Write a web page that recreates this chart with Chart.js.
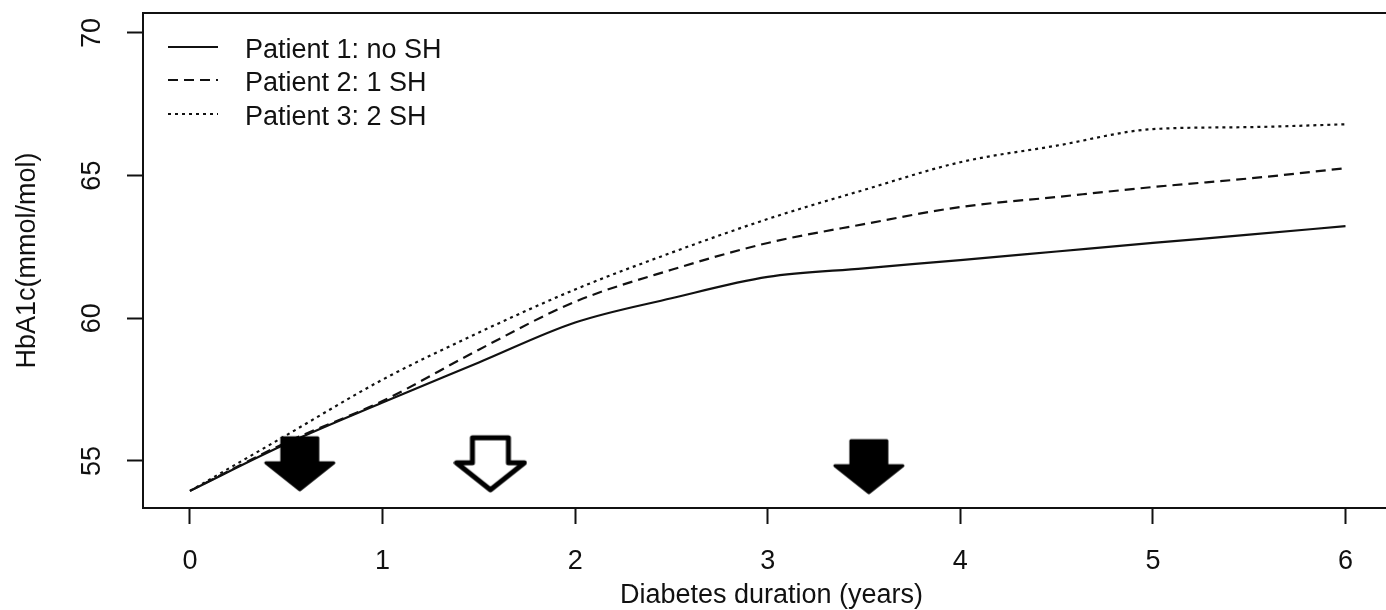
<!DOCTYPE html>
<html>
<head>
<meta charset="utf-8">
<script src="https://cdn.jsdelivr.net/npm/chart.js@4/dist/chart.umd.min.js"></script>
<style>
  html, body { margin: 0; padding: 0; background: #fff; overflow: hidden; }
  canvas { display: block; }
</style>
</head>
<body>
<canvas id="chart" width="1400" height="610"></canvas>
<script>
'use strict';

// values (years since diagnosis, HbA1c mmol/mol)
const years    = [0, 0.5, 1, 1.5, 2, 2.5, 3, 3.5, 4, 4.5, 5, 5.5, 6];
const patient1 = [53.95, 55.6, 57.05, 58.45, 59.85, 60.7, 61.45, 61.75, 62.04, 62.34, 62.64, 62.93, 63.23];
const patient2 = [53.95, 55.65, 57.1, 58.9, 60.58, 61.7, 62.64, 63.3, 63.9, 64.25, 64.6, 64.9, 65.26];
const patient3 = [53.95, 55.9, 57.85, 59.5, 61.01, 62.3, 63.48, 64.5, 65.47, 66.05, 66.63, 66.7, 66.8];
const seriesLabels = ['Patient 1: no SH', 'Patient 2: 1 SH', 'Patient 3: 2 SH'];

const xTicks = [0, 1, 2, 3, 4, 5, 6];
const yTicks = [55, 60, 65, 70];

// SH event markers
const arrowX      = [0.57, 1.56, 3.525];
const arrowY      = [54.9, 54.9, 54.8];
const arrowFilled = [true, false, true];

const FONT = '"Liberation Sans", Arial, sans-serif';
const INK = '#111';

function makeArrow(filled) {
  const c = document.createElement('canvas');
  c.width = 74;
  c.height = 60;
  const g = c.getContext('2d');
  g.beginPath();
  g.moveTo(19, 4);
  g.lineTo(55, 4);
  g.lineTo(55, 29);
  g.lineTo(71, 29);
  g.lineTo(37, 56);
  g.lineTo(3, 29);
  g.lineTo(19, 29);
  g.closePath();
  g.lineJoin = 'round';
  g.strokeStyle = '#000';
  if (filled) {
    g.fillStyle = '#000';
    g.lineWidth = 3;
  } else {
    g.fillStyle = '#fff';
    g.lineWidth = 5;
  }
  g.fill();
  g.stroke();
  return c;
}

const filledArrow = makeArrow(true);
const hollowArrow = makeArrow(false);

const series = [patient1, patient2, patient3];
const dashes = [[], [10, 6], [3, 4]];

const frame = {
  id: 'frame',
  afterDraw(chart) {
    const {ctx, chartArea: a, scales} = chart;
    ctx.save();
    ctx.strokeStyle = INK;
    ctx.lineWidth = 2;
    ctx.setLineDash([]);
    ctx.strokeRect(a.left, a.top, a.right - a.left, a.bottom - a.top);

    // y tick labels, rotated like R's default axis labels
    ctx.fillStyle = INK;
    ctx.font = '27px ' + FONT;
    ctx.textAlign = 'center';
    ctx.textBaseline = 'middle';
    for (const v of yTicks) {
      const y = scales.y.getPixelForValue(v);
      ctx.save();
      ctx.translate(93, y);
      ctx.rotate(-Math.PI / 2);
      ctx.fillText(String(v), 0, 0);
      ctx.restore();
    }

    // legend in the top-left corner
    const rows = [47, 80, 114];
    ctx.textAlign = 'left';
    seriesLabels.forEach((label, i) => {
      const ds = chart.data.datasets[i];
      ctx.strokeStyle = ds.borderColor;
      ctx.lineWidth = ds.borderWidth;
      ctx.setLineDash(ds.borderDash);
      ctx.beginPath();
      ctx.moveTo(168, rows[i]);
      ctx.lineTo(218, rows[i]);
      ctx.stroke();
      ctx.fillText(label, 245, rows[i] + 4);
    });
    ctx.restore();
  }
};

const datasets = series.map((vals, i) => ({
  label: seriesLabels[i],
  data: years.map((x, j) => ({x: x, y: vals[j]})),
  borderColor: '#111',
  borderWidth: 2.2,
  borderDash: dashes[i],
  pointRadius: 0,
  fill: false,
  cubicInterpolationMode: 'monotone',
  order: 2
}));

datasets.push({
  label: 'SH',
  data: arrowX.map((x, i) => ({x: x, y: arrowY[i]})),
  showLine: false,
  pointStyle: arrowFilled.map(f => f ? filledArrow : hollowArrow),
  pointRadius: 30,
  clip: false,
  order: 1
});

new Chart(document.getElementById('chart'), {
  type: 'line',
  data: {datasets: datasets},
  options: {
    responsive: false,
    animation: false,
    events: [],
    layout: {autoPadding: false, padding: {top: 13, right: 0, left: 0, bottom: 0}},
    plugins: {legend: {display: false}, tooltip: {enabled: false}},
    scales: {
      x: {
        type: 'linear',
        min: -0.244,
        max: 6.283,
        afterBuildTicks: s => { s.ticks = xTicks.map(v => ({value: v})); },
        afterFit: s => { s.height = 102; },
        border: {display: false},
        grid: {drawOnChartArea: false, drawTicks: true, tickLength: 16, tickWidth: 2, tickColor: INK},
        ticks: {
          padding: 24, color: INK, maxRotation: 0, autoSkip: false,
          font: {size: 27, family: FONT, lineHeight: 1},
          callback: v => String(v)
        },
        title: {
          display: true, text: 'Diabetes duration (years)', color: INK,
          font: {size: 27, family: FONT, lineHeight: 1},
          padding: {top: 0, bottom: 1}
        }
      },
      y: {
        type: 'linear',
        min: 53.35,
        max: 70.7,
        afterBuildTicks: s => { s.ticks = yTicks.map(v => ({value: v})); },
        afterFit: s => { s.width = 143; },
        border: {display: false},
        grid: {drawOnChartArea: false, drawTicks: true, tickLength: 16, tickWidth: 2, tickColor: INK},
        ticks: {display: false},
        title: {
          display: true, text: 'HbA1c(mmol/mol)', color: INK,
          font: {size: 27, family: FONT, lineHeight: 1},
          padding: {top: 14, bottom: 0}
        }
      }
    }
  },
  plugins: [frame]
});
</script>
</body>
</html>
